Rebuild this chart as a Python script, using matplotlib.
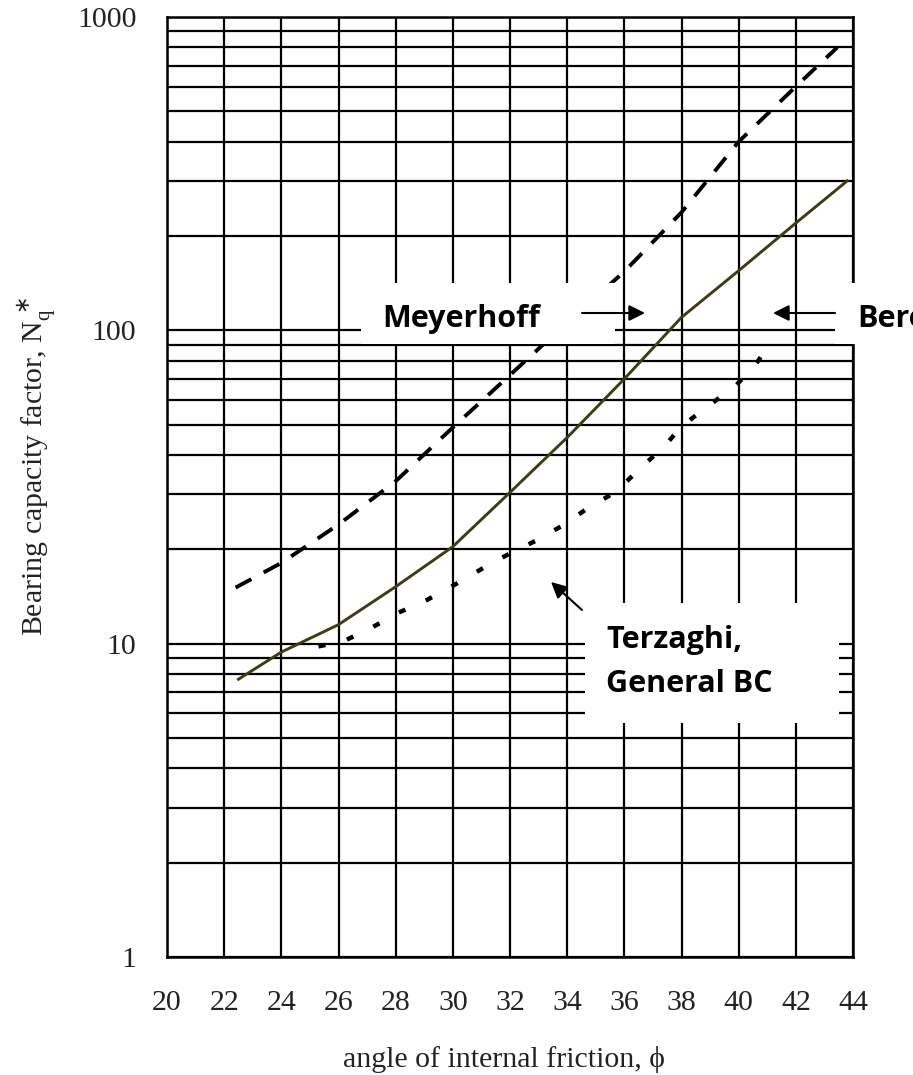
import matplotlib
matplotlib.use("Agg")
import matplotlib.pyplot as plt
from matplotlib.patches import Rectangle, FancyArrowPatch
from matplotlib.ticker import LogLocator, NullFormatter, FixedLocator, FixedFormatter

# ---- data ----
x_ticks = [20, 22, 24, 26, 28, 30, 32, 34, 36, 38, 40, 42, 44]
y_ticks = [1, 10, 100, 1000]
y_tick_labels = ["1", "10", "100", "1000"]

# Meyerhoff (dashed)
mey_phi = [22.4, 24, 26, 28, 30, 32, 34, 36, 38, 40, 42, 43.45]
mey_nq = [15.1, 18.1, 24, 33, 49, 72, 106, 154, 238, 400, 600, 800]

# Solid curve (Berezantzev)
ber_phi = [22.5, 24, 26, 28, 30, 32, 34, 36, 38, 40, 42, 43.8]
ber_nq = [7.7, 9.4, 11.5, 15.2, 20.4, 30.4, 45.5, 70, 110, 155, 220, 300]

# Terzaghi, general bearing capacity (dotted)
ter_phi = [25.3, 26.2, 27.2, 28.05, 29.1, 30, 31, 31.9, 32.9, 33.9, 34.7,
           35.7, 36.6, 37.4, 38, 38.9, 39.9, 40.6, 41.2]
ter_nq = [9.8, 10.2, 11.3, 12.5, 13.8, 15.3, 17.3, 19.2, 21.3, 24, 27,
          30.5, 36.6, 42.6, 49.4, 57, 66.6, 78, 93.5]

W, H = 913, 1075
fig = plt.figure(figsize=(W / 100, H / 100), dpi=100)
fig.patch.set_facecolor("white")


def fx(px):
    return px / W


def fy(py):
    return 1 - py / H


L, R, T, B = 167, 853, 17, 957
ax = fig.add_axes([fx(L), fy(B), (R - L) / W, (B - T) / H])
ax.set_yscale("log")
ax.set_xlim(20, 44)
ax.set_ylim(1, 1000)

serif = ["Liberation Serif", "DejaVu Serif"]

ax.xaxis.set_major_locator(FixedLocator(x_ticks))
ax.yaxis.set_major_locator(FixedLocator(y_ticks))
ax.yaxis.set_major_formatter(FixedFormatter(y_tick_labels))
ax.yaxis.set_minor_locator(LogLocator(base=10, subs=range(2, 10)))
ax.yaxis.set_minor_formatter(NullFormatter())
ax.tick_params(axis="both", which="both", length=0)
ax.tick_params(axis="y", pad=22)
ax.tick_params(axis="x", pad=24)
for lab in ax.get_xticklabels() + ax.get_yticklabels():
    lab.set_family(serif)
    lab.set_fontsize(21.5)
    lab.set_color("#222222")

ax.grid(True, which="major", axis="x", color="black", lw=1.6)
ax.grid(True, which="both", axis="y", color="black", lw=1.6)
ax.set_axisbelow(True)
for s in ax.spines.values():
    s.set_linewidth(1.8)
    s.set_color("black")

ax.plot(mey_phi, mey_nq, color="black", lw=2.8, linestyle=(0, (4.6, 3.6)),
        zorder=3)
ax.plot(ber_phi, ber_nq, color="#3c3c16", lw=2.1, zorder=3)
ax.plot(ter_phi, ter_nq, color="black", lw=3.2, linestyle=(0, (1.6, 5.0)),
        zorder=3)

# axis labels
fig.text(fx(37), fy(466), r"Bearing capacity factor, N$_\mathregular{q}^{\,\ast}$",
         rotation=90, ha="center", va="center", fontsize=21.5, family=serif,
         color="#222222")
fig.text(fx(504), fy(1067), "angle of internal friction, \u03d5",
         ha="center", va="baseline", fontsize=21.5, family=serif,
         color="#222222")

# annotation boxes
boxes = [(361, 283, 615, 344), (835, 283, 913, 344), (585, 603, 839, 723)]
for x0, y0, x1, y1 in boxes:
    fig.add_artist(Rectangle((fx(x0), fy(y1)), (x1 - x0) / W, (y1 - y0) / H,
                             transform=fig.transFigure, facecolor="white",
                             edgecolor="none", zorder=5))

bold = ["Open Sans", "DejaVu Sans"]
notes = [(382, 327, "Meyerhoff"), (857, 327, "Berezantzev"),
         (606, 648, "Terzaghi,"), (606, 692, "General BC")]
for px, py, txt in notes:
    fig.text(fx(px), fy(py), txt, ha="left", va="baseline",
             fontsize=22, fontweight="bold", family=bold, zorder=6)

arrows = [((582, 313), (645, 313)), ((835, 313), (773, 313)),
          ((582, 610), (551, 582))]
for (ax0, ay0), (ax1, ay1) in arrows:
    fig.add_artist(FancyArrowPatch((fx(ax0), fy(ay0)), (fx(ax1), fy(ay1)),
                                   transform=fig.transFigure,
                                   arrowstyle="-|>", mutation_scale=24,
                                   lw=1.5, color="black", shrinkA=0,
                                   shrinkB=0, zorder=7))

fig.savefig("out.png", dpi=100)
